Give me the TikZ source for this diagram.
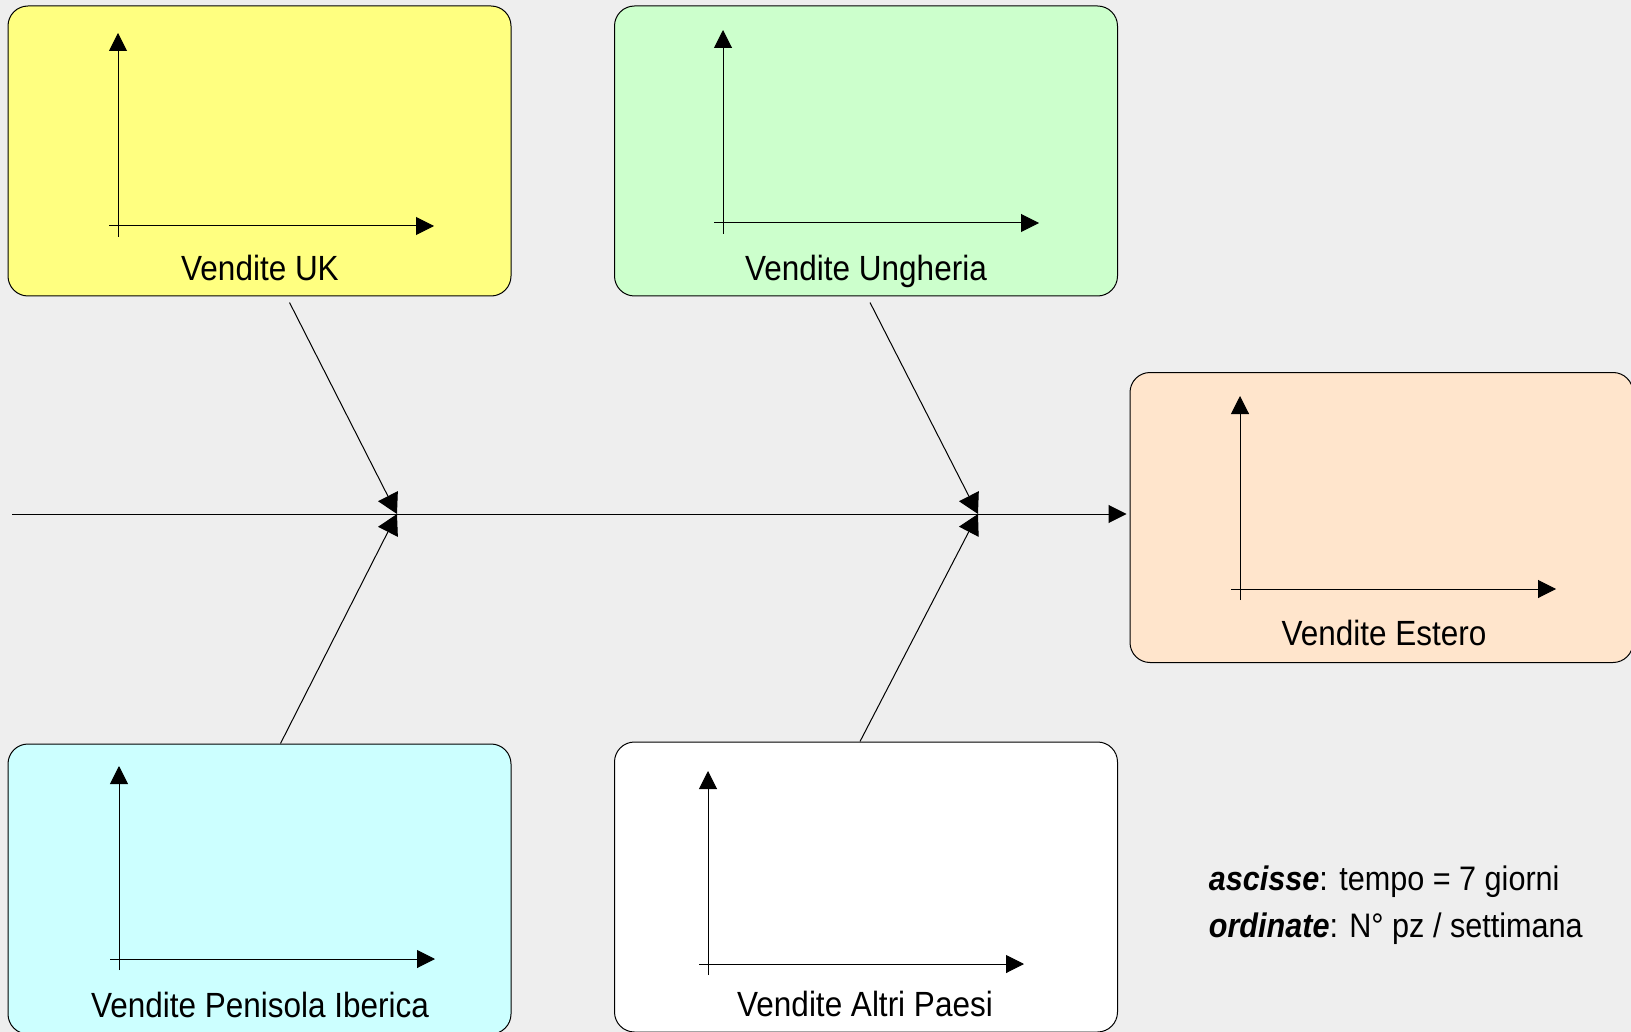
\documentclass[tikz,border=0pt]{standalone}
\usepackage{fontspec}
\setmainfont{Liberation Sans}[FakeStretch=0.9]
\usepackage{tikz}
\usetikzlibrary{arrows.meta}
\tikzset{>={Triangle[width=18pt,length=18pt]}}
\definecolor{paper}{RGB}{238,238,238}
\definecolor{ukfill}{RGB}{255,255,128}
\definecolor{hufill}{RGB}{204,255,204}
\definecolor{esfill}{RGB}{255,229,204}
\definecolor{ibfill}{RGB}{204,255,255}

\begin{document}
\begin{tikzpicture}[x=1pt, y=-1pt, line width=1pt,
  chart/.style={draw=black, rounded corners=20pt, minimum width=503pt,
    minimum height=290pt, inner sep=0pt},
  caption/.style={anchor=base, font=\fontsize{35}{40}\selectfont},
  notetext/.style={anchor=base west, font=\fontsize{34}{40}\selectfont},
  bone/.style={-{Triangle[width=22pt,length=20pt]}}]

  \newcommand\Axes[2]{% origin of the little chart
    \draw[->] (#1, #2+11) -- (#1, #2-193);
    \draw[->] (#1-9, #2) -- (#1+316, #2);
  }

  %% paper
  \fill[paper] (0,0) rectangle (1631,1032);
  \useasboundingbox (0,0) rectangle (1631,1032);

  %% boxes
  \node[chart, fill=ukfill] (uk) at (259.5,151) {};
  \node[chart, fill=hufill] (hu) at (866,151) {};
  \node[chart, fill=esfill] (es) at (1381.5,517.5) {};
  \node[chart, fill=ibfill] (ib) at (259.5,889) {};
  \node[chart, fill=white]  (al) at (866,887) {};

  \Axes{118}{226}
  \Axes{723}{223}
  \Axes{1240}{589}
  \Axes{119}{959}
  \Axes{708}{964}

  \node[caption] (ukl) at (260,281) {Vendite UK};
  \node[caption] (hul) at (866,281) {Vendite Ungheria};
  \node[caption] (esl) at (1384,645) {Vendite Estero};
  \node[caption] (ibl) at (260,1017) {Vendite Penisola Iberica};
  \node[caption] (all) at (865,1016) {Vendite Altri Paesi};

  %% spine
  \coordinate (tail) at (12,514);
  \coordinate (j1) at (397,514);
  \coordinate (j2) at (978,514);
  \draw[->, shorten >=3pt] (tail) -- (es.west |- tail);

  \draw[bone] ([xshift=30pt,yshift=-6pt]uk.south) -- (j1); % UK
  \draw[bone] ([xshift=21pt]ib.north) -- (j1); % Iberica
  \draw[bone] ([xshift=4pt,yshift=-6pt]hu.south) -- (j2); % Ungheria
  \draw[bone] ([xshift=-6pt]al.north) -- (j2); % Altri

  \node[notetext] (absc) at (1205,890) {\textbf{\textit{ascisse}}: tempo = 7 giorni};
  \node[notetext] (ordn) at (1205,937) {\textbf{\textit{ordinate}}: N° pz / settimana};

\end{tikzpicture}
\end{document}
